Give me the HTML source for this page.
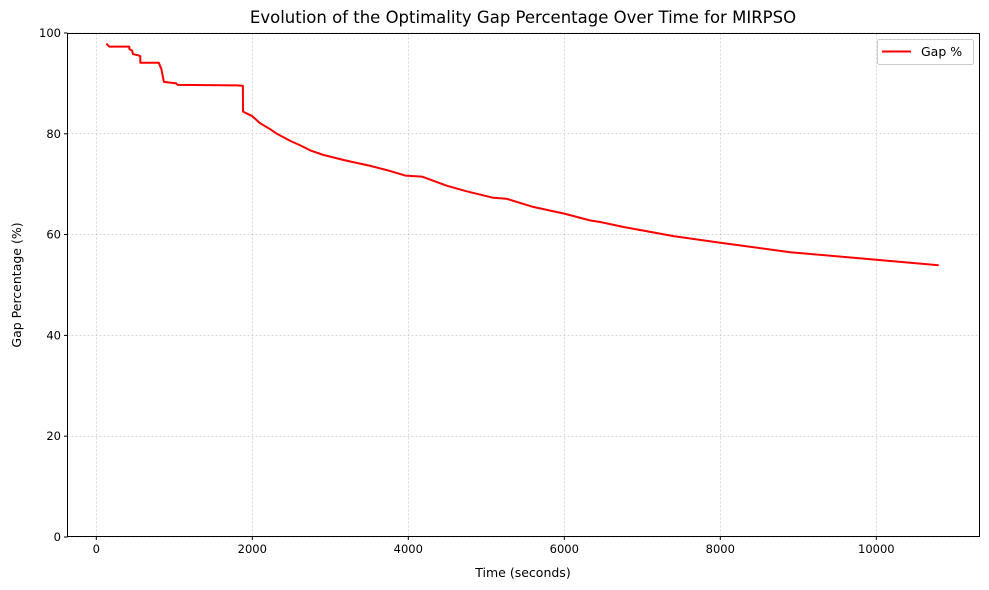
<!DOCTYPE html>
<html><head><meta charset="utf-8">
<style>
html,body{margin:0;padding:0;background:#fff;}
svg{display:block;font-family:"DejaVu Sans","Liberation Sans",sans-serif;}
</style></head>
<body>
<svg id="chart" width="989" height="590" viewBox="0 0 989 590" xmlns="http://www.w3.org/2000/svg">
<rect x="0" y="0" width="989" height="590" fill="#fff"/>
<text x="523" y="23" text-anchor="middle" font-size="16.5">Evolution of the Optimality Gap Percentage Over Time for MIRPSO</text>
<g id="grid"></g>
<g id="series"></g>
<rect x="67.5" y="33.5" width="912" height="503" fill="none" stroke="#000" stroke-width="1"/>
<g id="xticks"></g>
<g id="yticks"></g>
<text x="523" y="577" text-anchor="middle" font-size="12.5">Time (seconds)</text>
<text transform="translate(21,285) rotate(-90)" text-anchor="middle" font-size="12.5">Gap Percentage (%)</text>
<g>
<rect x="877.5" y="39.5" width="96" height="25" rx="2" fill="#fff" stroke="#ccc"/>
<line x1="882" y1="51.5" x2="911" y2="51.5" stroke="#f00" stroke-width="2"/>
<text x="921" y="56" font-size="12.5">Gap %</text>
</g>
</svg>
<script>
const times = [128,167,423,424,460,470,535,564,564,800,833,867,1026,1042,1804,1880,1881,1974,2000,2100,2231,2316,2487,2615,2744,2914,3171,3256,3500,3726,3962,4175,4492,4749,5090,5260,5600,6013,6333,6460,6760,7400,8000,8897,10000,10800];
const gaps  = [97.9,97.3,97.3,96.8,96.5,95.8,95.6,95.4,94.1,94.1,92.9,90.3,90.0,89.7,89.6,89.5,84.4,83.7,83.5,82.1,80.9,80.0,78.6,77.7,76.7,75.8,74.8,74.5,73.7,72.8,71.7,71.5,69.7,68.6,67.3,67.1,65.5,64.1,62.8,62.5,61.5,59.7,58.4,56.5,55.0,53.9];
const xTicks = [0,2000,4000,6000,8000,10000];
const yTicks = [0,20,40,60,80,100];
const NS="http://www.w3.org/2000/svg";
function xs(t){return 96.3+t*0.078;}
function ys(g){return 537-g*5.04;}
const grid=document.getElementById('grid'),xt=document.getElementById('xticks'),yt=document.getElementById('yticks'),ser=document.getElementById('series');
function mk(tag,attrs,parent){const e=document.createElementNS(NS,tag);for(const k in attrs)e.setAttribute(k,attrs[k]);parent.appendChild(e);return e;}
xTicks.forEach(v=>{
  const x=xs(v);
  const gl=mk('line',{x1:x,x2:x,y1:33.5,y2:536.5,stroke:'#b0b0b0','stroke-width':0.5,'stroke-dasharray':'2,2'},grid);
  
  
  const tk=mk('line',{x1:x,x2:x,y1:536.5,y2:540,stroke:'#000'},xt);
  
  
  const tx=mk('text',{x:x,y:553,'text-anchor':'middle','font-size':11.5},xt);
  
  
  tx.textContent=v;
});
yTicks.forEach(v=>{
  const y=ys(v);
  const gl=mk('line',{x1:67.5,x2:979.5,y1:y,y2:y,stroke:'#b0b0b0','stroke-width':0.5,'stroke-dasharray':'2,2'},grid);
  
  
  const tk=mk('line',{x1:64,x2:67.5,y1:y,y2:y,stroke:'#000'},yt);
  
  
  const tx=mk('text',{x:61,y:y+4,'text-anchor':'end','font-size':11.5},yt);
  
  
  tx.textContent=v;
});
const pts=times.map((t,i)=>xs(t).toFixed(1)+','+ys(gaps[i]).toFixed(1)).join(' ');
const pl=mk('polyline',{points:pts,fill:'none',stroke:'#f00','stroke-width':2,'stroke-linejoin':'round'},ser);


</script>
</body></html>
